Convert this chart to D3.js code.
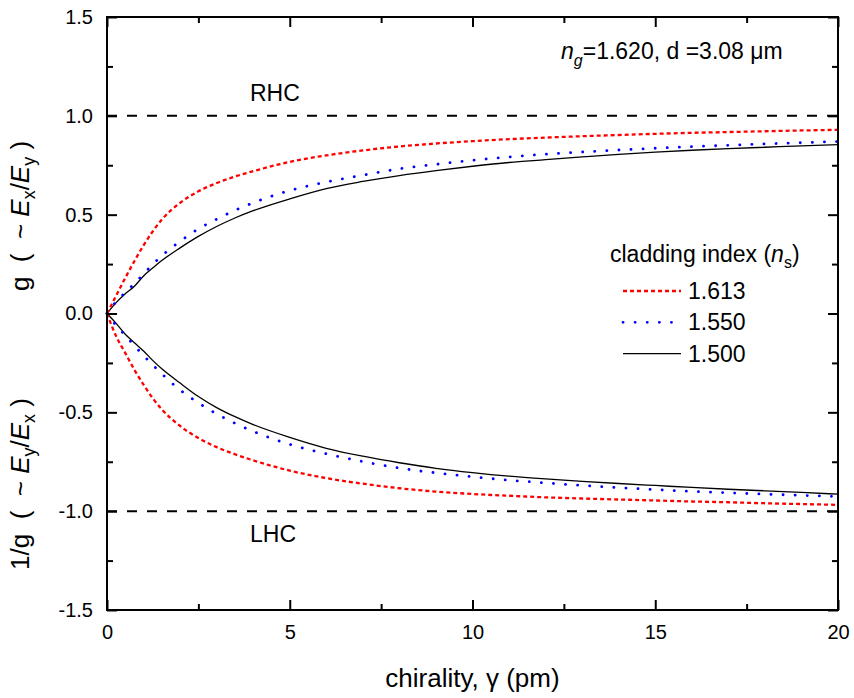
<!DOCTYPE html>
<html><head><meta charset="utf-8">
<script src="https://cdn.jsdelivr.net/npm/d3@7"></script>
<style>body{margin:0;background:#fff}svg{display:block}text{font-family:Arial,"Liberation Sans",sans-serif;fill:#000;white-space:pre}</style>
</head><body><svg id="c" width="854" height="698"></svg>
<script>
const gamma = [0,0.25,0.5,0.75,1,1.25,1.5,2,2.5,3,3.5,4,5,6,7,8,9,10,11,12,13,14,15,16,17,18,19,20];
const red_up   = [0,0.09,0.18,0.265,0.345,0.415,0.475,0.56,0.618,0.66,0.693,0.72,0.767,0.80,0.825,0.845,0.86,0.872,0.882,0.89,0.897,0.903,0.909,0.914,0.918,0.922,0.926,0.929];
const blue_up  = [0,0.06,0.106,0.152,0.20,0.248,0.292,0.365,0.428,0.477,0.522,0.56,0.622,0.665,0.70,0.732,0.755,0.775,0.792,0.806,0.817,0.827,0.836,0.844,0.851,0.858,0.864,0.87];
const black_up = [0,0.055,0.1,0.138,0.19,0.23,0.268,0.332,0.39,0.44,0.483,0.52,0.58,0.632,0.668,0.698,0.723,0.745,0.764,0.778,0.792,0.805,0.816,0.826,0.834,0.841,0.848,0.854];
const red_lo   = [0,-0.115,-0.2,-0.285,-0.36,-0.428,-0.485,-0.569,-0.63,-0.676,-0.712,-0.743,-0.795,-0.833,-0.861,-0.884,-0.901,-0.913,-0.922,-0.93,-0.936,-0.941,-0.946,-0.951,-0.955,-0.96,-0.964,-0.968];
const blue_lo  = [0,-0.06,-0.11,-0.163,-0.213,-0.26,-0.305,-0.387,-0.452,-0.508,-0.555,-0.596,-0.662,-0.71,-0.749,-0.782,-0.806,-0.826,-0.843,-0.857,-0.87,-0.881,-0.891,-0.9,-0.907,-0.914,-0.92,-0.926];
const black_lo = [0,-0.05,-0.105,-0.148,-0.19,-0.237,-0.28,-0.352,-0.42,-0.476,-0.522,-0.562,-0.627,-0.682,-0.722,-0.755,-0.783,-0.805,-0.823,-0.837,-0.849,-0.86,-0.87,-0.88,-0.889,-0.897,-0.905,-0.914];
const legendLabels = ["1.613","1.550","1.500"];
const xTicks = [0,5,10,15,20];
const yTicks = [-1.5,-1.0,-0.5,0.0,0.5,1.0,1.5];
const refLevels = [1,-1];

const svg = d3.select("#c");
const L=107,R=838,T=17,B=610;
const x = d3.scaleLinear().domain([0,20]).range([L,R]);
const y = d3.scaleLinear().domain([-1.5,1.5]).range([B,T]);

const series = [
  {up:red_up, lo:red_lo, color:"#ff0000", width:2.3, dash:"4,3"},
  {up:blue_up, lo:blue_lo, color:"#0000ff", width:2.8, dash:"0.1,12", cap:"round"},
  {up:black_up, lo:black_lo, color:"#000", width:1.3, dash:null}
];

refLevels.forEach(v=>{
  svg.append("line").attr("x1",x(0)).attr("x2",x(20)).attr("y1",y(v)).attr("y2",y(v))
    .attr("stroke","#000").attr("stroke-width",2).attr("stroke-dasharray","10,10");
});

const line = d3.line().x((d,i)=>x(gamma[i])).y(d=>y(d)).curve(d3.curveMonotoneX);
series.slice().reverse().forEach(s=>{
  [s.up,s.lo].forEach(arr=>{
    svg.append("path").attr("d",line(arr)).attr("fill","none").attr("stroke",s.color)
      .attr("stroke-width",s.width).attr("stroke-dasharray",s.dash).attr("stroke-linecap",s.cap||"butt");
  });
});

const fs=20;
const fmtY = d=>d3.format(".1f")(d).replace("−","-");
const xb = svg.append("g").attr("transform",`translate(0,${B})`).call(d3.axisBottom(x).tickValues(xTicks).tickSize(-10).tickPadding(15).tickFormat(d3.format("d")));
const xbm = svg.append("g").attr("transform",`translate(0,${B})`).call(d3.axisBottom(x).tickValues([2.5,7.5,12.5,17.5]).tickSize(-6).tickFormat(""));
const xt = svg.append("g").attr("transform",`translate(0,${T})`).call(d3.axisTop(x).tickValues(xTicks).tickSize(-10).tickFormat(""));
const xtm = svg.append("g").attr("transform",`translate(0,${T})`).call(d3.axisTop(x).tickValues([2.5,7.5,12.5,17.5]).tickSize(-6).tickFormat(""));
const yl = svg.append("g").attr("transform",`translate(${L},0)`).call(d3.axisLeft(y).tickValues(yTicks).tickSize(-10).tickPadding(14).tickFormat(fmtY));
const ylm = svg.append("g").attr("transform",`translate(${L},0)`).call(d3.axisLeft(y).tickValues([-1.25,-0.75,-0.25,0.25,0.75,1.25]).tickSize(-6).tickFormat(""));
const yr = svg.append("g").attr("transform",`translate(${R},0)`).call(d3.axisRight(y).tickValues(yTicks).tickSize(-10).tickFormat(""));
const yrm = svg.append("g").attr("transform",`translate(${R},0)`).call(d3.axisRight(y).tickValues([-1.25,-0.75,-0.25,0.25,0.75,1.25]).tickSize(-6).tickFormat(""));
[xb,xbm,xt,xtm,yl,ylm,yr,yrm].forEach(g=>{
  g.select(".domain").remove();
  g.selectAll("line").attr("stroke","#000").attr("stroke-width",2);
  g.selectAll("text").style("font-size",fs+"px").style("font-family","Arial, Liberation Sans");
});
xb.selectAll("text").attr("dy","0.71em");
svg.append("rect").attr("x",L).attr("y",T).attr("width",R-L).attr("height",B-T)
  .attr("fill","none").attr("stroke","#000").attr("stroke-width",2);

svg.append("text").attr("x",(L+R)/2).attr("y",687).attr("text-anchor","middle").style("font-size","26px")
  .text("chirality, γ (pm)");

function ylab(cy, a, b){
  const t = svg.append("text").attr("transform",`translate(29,${cy}) rotate(-90)`).attr("text-anchor","middle").style("font-size","26px");
  t.append("tspan").text(a + "  (  ~ ");
  t.append("tspan").attr("font-style","italic").text("E");
  t.append("tspan").attr("font-size","18px").attr("dy",6).text(b[0]);
  t.append("tspan").attr("dy",-6).text("/");
  t.append("tspan").attr("font-style","italic").text("E");
  t.append("tspan").attr("font-size","18px").attr("dy",6).text(b[1]);
  t.append("tspan").attr("dy",-6).text(" )");
}
ylab(216,"g",["x","y"]);
ylab(484,"1/g",["y","x"]);

const ann = svg.append("text").attr("x",561).attr("y",59).style("font-size","23px");
ann.append("tspan").attr("font-style","italic").text("n");
ann.append("tspan").attr("font-style","italic").attr("font-size","16px").attr("dy",7).text("g");
ann.append("tspan").attr("dy",-7).text("=1.620, d =3.08 μm");

svg.append("text").attr("x",250).attr("y",101).style("font-size","23px").text("RHC");
svg.append("text").attr("x",250).attr("y",542).style("font-size","23px").text("LHC");

const lt = svg.append("text").attr("x",610).attr("y",262).style("font-size","23px");
lt.append("tspan").text("cladding index (");
lt.append("tspan").attr("font-style","italic").text("n");
lt.append("tspan").attr("font-size","16px").attr("dy",6).text("s");
lt.append("tspan").attr("dy",-6).text(")");

series.forEach((s,i)=>{
  const yy = 291 + i*31.3;
  svg.append("line").attr("x1",623).attr("x2",681).attr("y1",yy).attr("y2",yy)
    .attr("stroke",s.color).attr("stroke-width",s.width).attr("stroke-dasharray",s.dash).attr("stroke-linecap",s.cap||"butt");
  svg.append("text").attr("x",688).attr("y",yy+8).style("font-size","23px").text(legendLabels[i]);
});
</script></body></html>
